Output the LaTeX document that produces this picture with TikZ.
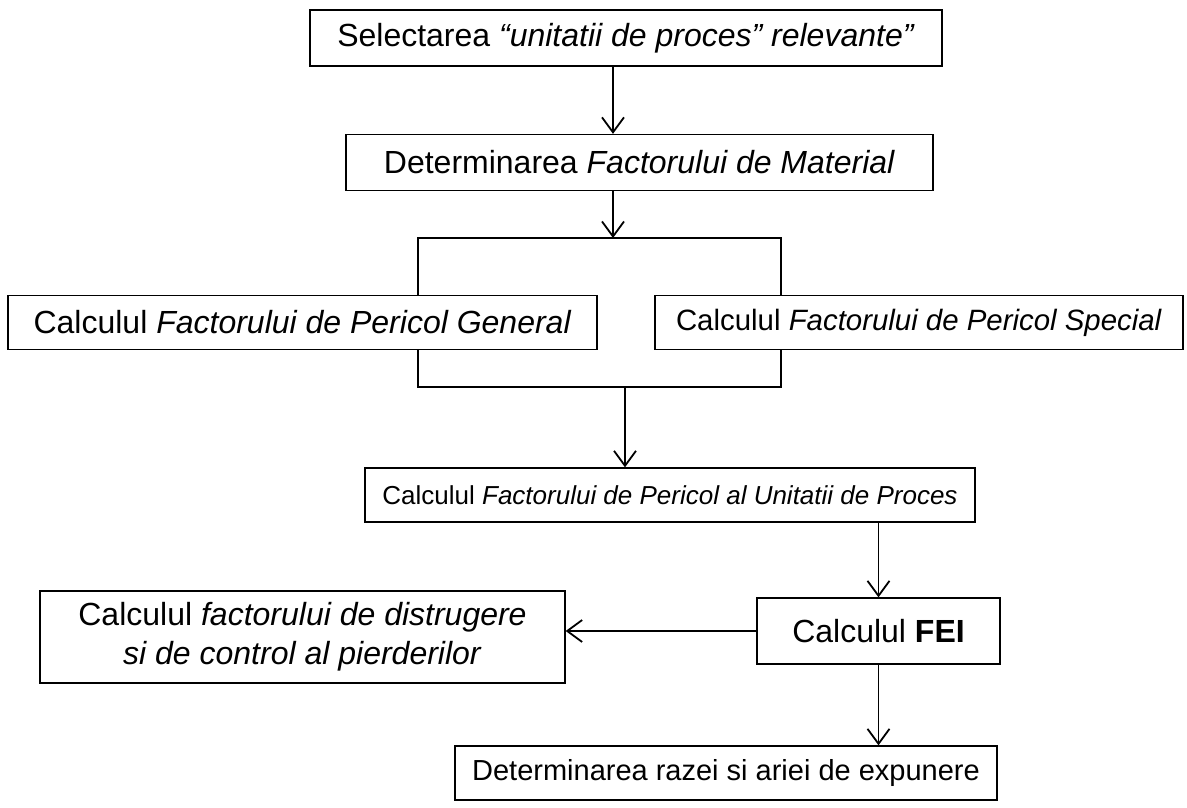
\documentclass[tikz,border=0pt]{standalone}
\usepackage{fontspec}
\setmainfont{Liberation Sans}
\usetikzlibrary{arrows.meta,calc}
\begin{document}
\begin{tikzpicture}[x=1pt,y=-1pt,
  box/.style={draw, line width=1.3pt, rectangle, inner sep=0pt, align=center, font=\fontsize{32}{39}\selectfont},
  conn/.style={line width=1.8pt},
  arr/.style={conn, -{Straight Barb[length=15pt,width=22pt,line width=1.8pt]}}]
\useasboundingbox (0,0) rectangle (1187,808);
\node[box, minimum width=632, minimum height=56] (b1) at (626,38) {Selectarea \textit{“unitatii de proces\char34\ relevante”}};
\node[box, minimum width=587, minimum height=56] (b2) at (639.5,162.5) {Determinarea \textit{Factorului de Material}};
\node[box, minimum width=589, minimum height=54] (b3) at (302.5,322.5) {Calculul \textit{Factorului de Pericol General}};
\node[box, minimum width=528, minimum height=54, font=\fontsize{29.4}{36}\selectfont] (b4) at (919,322.5) {Calculul \textit{Factorului de Pericol Special}};
\node[box, minimum width=610, minimum height=54, font=\fontsize{26}{32}\selectfont] (b5) at (670,495) {Calculul \textit{Factorului de Pericol al Unitatii de Proces}};
\node[box, minimum width=243, minimum height=66] (b6) at (878.5,631) {Calculul \textbf{FEI}};
\node[box, minimum width=525, minimum height=92] (b7) at (302.5,637) {Calculul \textit{factorului de distrugere}\\\textit{si de control al pierderilor}};
\node[box, minimum width=542, minimum height=54, font=\fontsize{29}{35}\selectfont] (b8) at (726,773) {Determinarea razei si ariei de expunere};
\coordinate (tl) at (418,238);
\coordinate (tr) at (781,238);
\coordinate (bl) at (418,387);
\coordinate (br) at (781,387);
\coordinate (tm) at (613,238);
\coordinate (bm) at (625,387);
\draw[arr] (b1.south -| tm) -- (b2.north -| tm);
\draw[arr] (b2.south -| tm) -- (tm);
\draw[conn] (b3.north -| tl) -- (tl) -- (tr) -- (b4.north -| tr);
\draw[conn] (b3.south -| bl) -- (bl) -- (br) -- (b4.south -| br);
\draw[arr] (bm) -- (b5.north -| bm);
\draw[arr] (b5.south -| b6) -- (b6.north);
\draw[arr] (b6.west) -- (b7.east |- b6.west);
\draw[arr] (b6.south) -- (b8.north -| b6.south);
\end{tikzpicture}
\end{document}
